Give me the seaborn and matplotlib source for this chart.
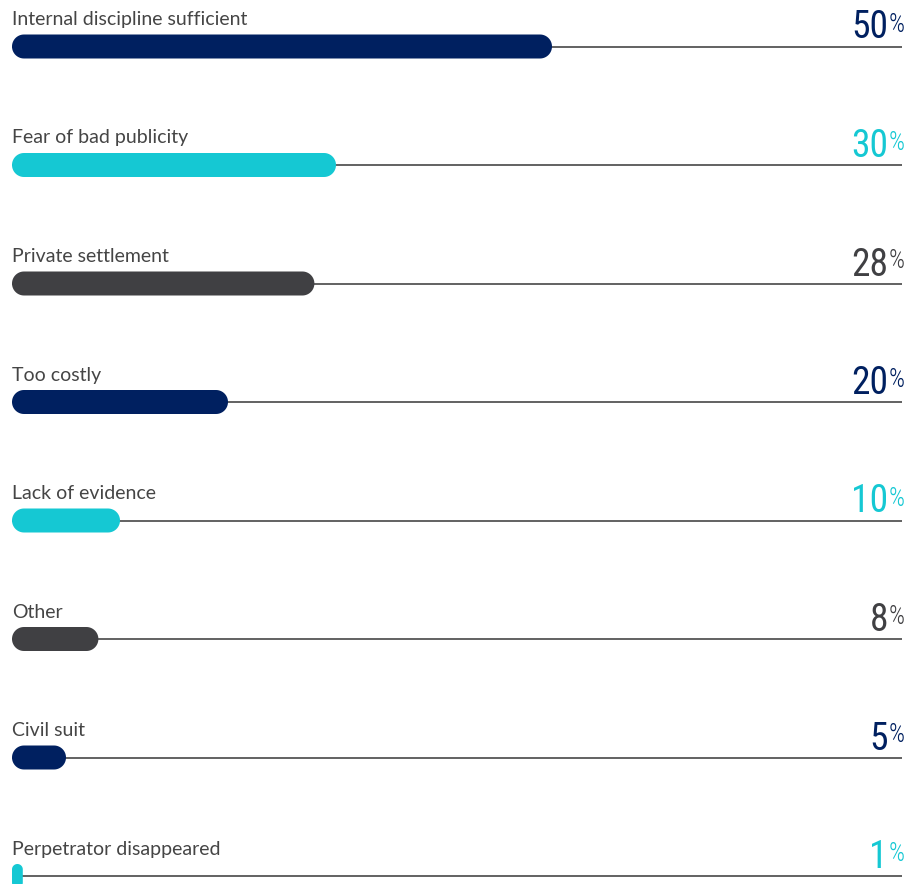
import matplotlib
matplotlib.use("Agg")

import numpy as np
import matplotlib.pyplot as plt
import seaborn as sns
from matplotlib.patches import Polygon

# data
reasons = [
    "Internal discipline sufficient",
    "Fear of bad publicity",
    "Private settlement",
    "Too costly",
    "Lack of evidence",
    "Other",
    "Civil suit",
    "Perpetrator disappeared",
]
shares = [50, 30, 28, 20, 10, 8, 5, 1]
bar_colors = ["#002060", "#15C8D3", "#404043", "#002060", "#15C8D3", "#404043", "#002060", "#15C8D3"]

sns.set_theme(style="white")
plt.rcParams["font.family"] = ["Lato", "DejaVu Sans"]

W, H = 907, 884
fig = plt.figure(figsize=(W / 100, H / 100), dpi=100)
ax = fig.add_axes([0, 0, 1, 1])

# pixel scale: 10.8 px per %, rows ~118.5 px apart
px_x = 10.8
px_y = 118.5
x0_px, y0_px = 12, 46.5
x_max = (902 - x0_px) / px_x

sns.barplot(x=shares, y=reasons, hue=reasons, palette=bar_colors, saturation=1,
            orient="h", width=24 / px_y, legend=False, ax=ax)

ax.set_xlim(-x0_px / px_x, (W - x0_px) / px_x)
ax.set_ylim((H - y0_px) / px_y, -y0_px / px_y)
ax.axis("off")

# thin track lines
ax.hlines(range(len(reasons)), 0, x_max, color="#555555", lw=1.3, zorder=1)


def pill(x, y, w, h):
    # rounded rectangle with circular (in pixels) corners
    r = min(12, w * px_x / 2, h * px_y / 2)
    rx, ry = r / px_x, r / px_y
    t = np.linspace(0, np.pi / 2, 16)
    pts = []
    for cx, cy, a0 in [(x + w - rx, y + h - ry, 0), (x + rx, y + h - ry, np.pi / 2),
                       (x + rx, y + ry, np.pi), (x + w - rx, y + ry, 1.5 * np.pi)]:
        pts += list(zip(cx + rx * np.cos(t + a0), cy + ry * np.sin(t + a0)))
    return pts


# swap flat bars for pill-shaped ones
for p in list(ax.patches):
    x, y = p.get_x(), p.get_y()
    w, h = p.get_width(), p.get_height()
    fc = p.get_facecolor()
    p.remove()
    ax.add_patch(Polygon(pill(x, y, w, h), closed=True, fc=fc, ec="none", zorder=2))

num_font = ["Roboto Condensed", "Liberation Sans Narrow", "DejaVu Sans"]
for i, (lab, v, c) in enumerate(zip(reasons, shares, bar_colors)):
    ax.text(0, i - 27 / px_y, lab, fontsize=14, color="#454545",
            ha="left", va="center")
    ax.text((888 - x0_px) / px_x, i - 8 / px_y, f"{v}", fontsize=27,
            color=c, ha="right", va="baseline", family=num_font)
    ax.text((888.5 - x0_px) / px_x, i - 34 / px_y, "%", fontsize=18,
            color=c, ha="left", va="top", family=num_font, weight="light")

fig.savefig("out.png", dpi=100)
